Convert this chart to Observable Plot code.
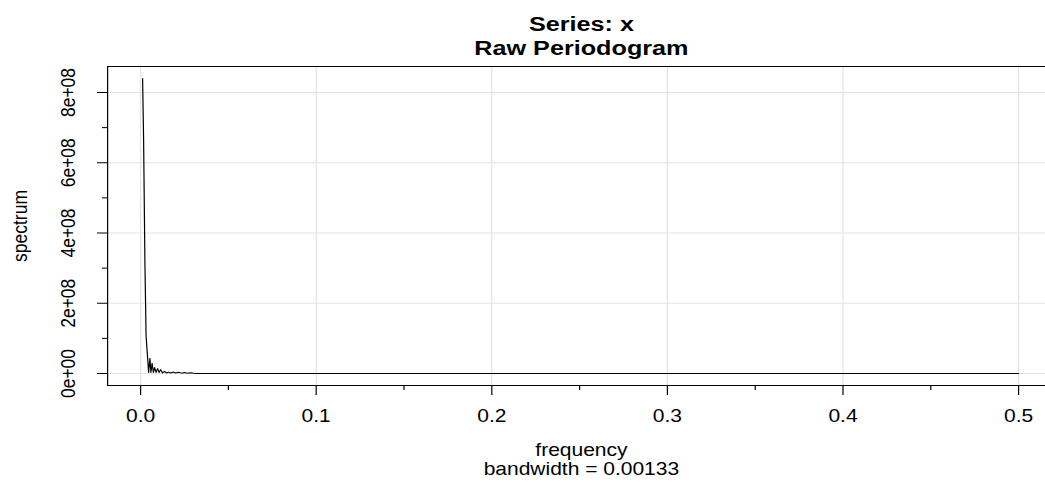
<!DOCTYPE html>
<html><head><meta charset="utf-8">
<script src="https://cdn.jsdelivr.net/npm/d3@7"></script>
<script src="https://cdn.jsdelivr.net/npm/@observablehq/plot@0.6"></script>
<style>body{margin:0;background:#fff;font-family:"Liberation Sans",Arial,sans-serif}</style>
</head><body><div id="chart"></div>
<script>
const frequency = [0.00114,0.00171,0.00245,0.00313,0.00382,0.00456,0.00530,0.00587,0.00655,0.00729,0.00798,0.00883,0.00969,0.01054,0.01139,0.01253,0.01367,0.01481,0.01595,0.01709,0.01880,0.01994,0.02165,0.02336,0.02506,0.02677,0.02848,0.03019,0.03190,0.05,0.1,0.2,0.3,0.4,0.5];
const spectrum = [8.40e8,6.66e8,3.17e8,1.06e8,5.7e7,3e6,4.3e7,3e6,2.9e7,3e6,1.7e7,3e6,1.4e7,3e6,1.1e7,1.5e6,6e6,1.5e6,4e6,1.5e6,4e6,1.5e6,3.5e6,1e6,3e6,1e6,2.3e6,6e5,3e5,2e5,1e5,5e4,3e4,2e4,2e4];
const xMajor = [0,0.1,0.2,0.3,0.4,0.5];
const xMinor = [0.05,0.15,0.25,0.35,0.45];
const xLabels = ["0.0","0.1","0.2","0.3","0.4","0.5"];
const yMajor = [0,2e8,4e8,6e8,8e8];
const yMinor = [1e8,3e8,5e8,7e8];
const yLabels = ["0e+00","2e+08","4e+08","6e+08","8e+08"];
const titleLines = ["Series: x","Raw Periodogram"];
const xTitle = "frequency";
const xSubtitle = "bandwidth = 0.00133";
const yTitle = "spectrum";

const data = frequency.map((f,i)=>({f, s: spectrum[i]}));
const W = 1045, H = 491, SX = 1.2, w = W/SX;
const font = "Liberation Sans, Arial, sans-serif";
const fs = 17.5;

const svg = Plot.plot({
  width: w, height: H,
  marginLeft: 107/SX, marginRight: -8, marginTop: 66, marginBottom: H-385,
  style: {fontFamily: font, background: "#fff", color: "#000"},
  x: {domain: [0,0.5], range: [140/SX, 1018/SX]},
  y: {domain: [0,8e8], range: [373, 92]},
  marks: [
    Plot.gridX(xMajor, {stroke: "#e3e3e3", strokeOpacity: 1}),
    Plot.gridY(yMajor, {stroke: "#e3e3e3", strokeOpacity: 1}),
    Plot.line(data, {x: "f", y: "s", stroke: "#000", strokeWidth: 1}),
    Plot.frame({stroke: "#000"}),
    Plot.axisX(xMajor, {label: null, tickSize: 10, tickPadding: 14, fontSize: fs, tickFormat: (d,i) => xLabels[i]}),
    Plot.axisX(xMinor, {label: null, tickSize: 5, tickFormat: () => ""}),
    Plot.axisY(yMajor, {label: null, tickSize: 10/SX, tickFormat: () => ""}),
    Plot.axisY(yMinor, {label: null, tickSize: 5/SX, tickFormat: () => ""}),
    Plot.text(yMajor, {y: d => d, text: (d,i) => yLabels[i], frameAnchor: "left", textAnchor: "middle", dx: 68/SX - 107/SX, rotate: -90, fontSize: fs, fill: "#000"}),
    Plot.text([titleLines[0]], {frameAnchor: "top", dy: -50.5, fontSize: 21, fontWeight: "bold", fill: "#000"}),
    Plot.text([titleLines[1]], {frameAnchor: "top", dy: -26.5, fontSize: 21, fontWeight: "bold", fill: "#000"}),
    Plot.text([xTitle], {frameAnchor: "bottom", dy: 70.5, fontSize: fs, fill: "#000"}),
    Plot.text([xSubtitle], {frameAnchor: "bottom", dy: 89.5, fontSize: fs, fill: "#000"}),
    Plot.text([yTitle], {frameAnchor: "left", textAnchor: "middle", dx: 20/SX - 107/SX, rotate: -90, fontSize: fs, fill: "#000"})
  ]
});
svg.setAttribute("width", W);
svg.setAttribute("height", H);
svg.setAttribute("viewBox", `0 0 ${w} ${H}`);
svg.setAttribute("preserveAspectRatio", "none");
svg.style.width = W + "px";
svg.style.height = H + "px";
svg.style.maxWidth = "none";
svg.style.overflow = "hidden";
document.getElementById("chart").appendChild(svg);
</script>
</body></html>
